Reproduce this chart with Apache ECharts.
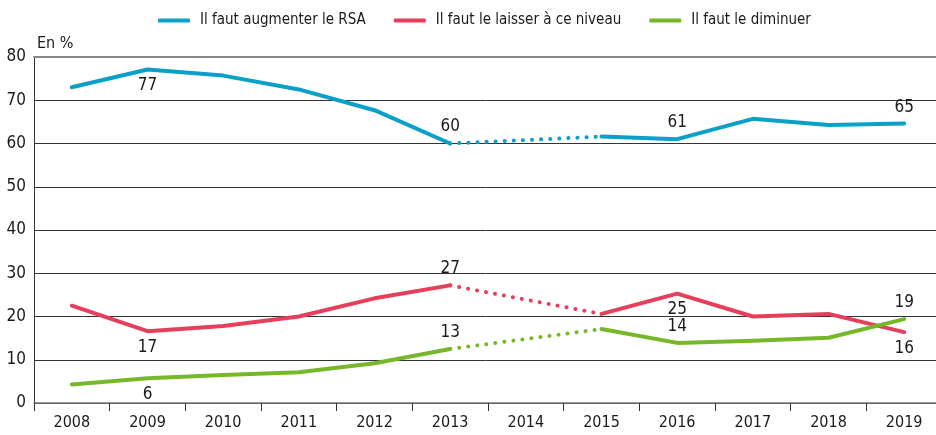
<!DOCTYPE html>
<html>
<head>
<meta charset="utf-8">
<script src="https://cdn.jsdelivr.net/npm/echarts@6/dist/echarts.min.js"></script>
<style>
  html, body { margin: 0; padding: 0; background: #fff; }
  #chart { width: 936px; height: 435px; }
</style>
</head>
<body>
<div id="chart"></div>
<script>
var years = ['2008', '2009', '2010', '2011', '2012', '2013', '2014', '2015', '2016', '2017', '2018', '2019'];
var augmenter = [73.0, 77.1, 75.7, 72.5, 67.7, 60.0, null, 61.6, 61.0, 65.7, 64.3, 64.6];
var laisser = [22.5, 16.6, 17.8, 20.0, 24.2, 27.2, null, 20.6, 25.3, 20.0, 20.6, 16.4];
var diminuer = [4.3, 5.7, 6.5, 7.1, 9.2, 12.5, null, 17.1, 13.9, 14.4, 15.1, 19.4];
var names = ['Il faut augmenter le RSA', 'Il faut le laisser à ce niveau', 'Il faut le diminuer'];
var colors = ['#0aa0c8', '#e63f5b', '#76b82a'];
// which points carry a value label, and where
var labelAt = [
    {1: 'bottom', 5: 'top', 8: 'top', 11: 'top'},
    {1: 'bottom', 5: 'top', 8: 'bottom', 11: 'bottom'},
    {1: 'bottom', 5: 'top', 8: 'top', 11: 'top'}
];

var font = "'Liberation Sans Narrow', 'DejaVu Sans Condensed', sans-serif";
var dom = document.getElementById('chart');
var myChart = echarts.init(dom);

function solidData(values, marks) {
    return values.map(function (v, i) {
        if (v === null) return null;
        var item = {value: v};
        if (marks[i]) {
            item.label = {show: true, position: marks[i]};
        }
        return item;
    });
}

// dotted link over the missing 2014 point
function gapData(values) {
    return values.map(function (v, i) {
        return (i === 5 || i === 7) ? v : null;
    });
}

var series = [];
[augmenter, laisser, diminuer].forEach(function (vals, k) {
    series.push({
        name: names[k],
        type: 'line',
        data: solidData(vals, labelAt[k]),
        symbol: 'circle',
        symbolSize: 0,
        connectNulls: false,
        lineStyle: {color: colors[k], width: 4, cap: 'round', join: 'round'},
        itemStyle: {color: colors[k]},
        label: {
            show: false,
            color: '#1a1a1a',
            fontFamily: font,
            fontSize: 17,
            distance: 8,
            formatter: function (p) { return Math.round(p.value); }
        },
        z: 3
    });
    series.push({
        name: names[k] + ' (gap)',
        type: 'line',
        data: gapData(vals),
        symbol: 'none',
        connectNulls: true,
        lineStyle: {color: colors[k], width: 4, type: [0.1, 9], cap: 'round'},
        z: 3
    });
});

option = {
    animation: false,
    textStyle: {fontFamily: font},
    legend: {
        data: names,
        left: 153,
        top: 8,
        itemWidth: 32,
        itemHeight: 4,
        itemGap: 28,
        icon: 'roundRect',
        textStyle: {fontFamily: font, fontSize: 15, color: '#1a1a1a', padding: [0, 0, 0, 5]}
    },
    grid: {left: 34, right: -6, top: 57, bottom: 32, outerBoundsMode: 'none', containLabel: false},
    xAxis: [{
        type: 'category',
        data: years,
        boundaryGap: true,
        axisLine: {lineStyle: {color: '#777', width: 1.5}},
        axisTick: {show: true, length: 8, lineStyle: {color: '#333'}},
        axisLabel: {color: '#1a1a1a', fontSize: 16, fontFamily: font, margin: 12}
    }, {
        type: 'category',
        data: years,
        position: 'top',
        axisLine: {lineStyle: {color: '#888', width: 2}},
        axisTick: {show: false},
        axisLabel: {show: false}
    }],
    yAxis: {
        type: 'value',
        min: 0,
        max: 80,
        interval: 10,
        name: 'En %',
        nameLocation: 'end',
        nameGap: 5,
        nameTextStyle: {align: 'left', color: '#1a1a1a', fontSize: 16, fontFamily: font, padding: [0, 0, 0, 3]},
        axisLine: {show: true, lineStyle: {color: '#333', width: 1}},
        axisTick: {show: false},
        axisLabel: {color: '#1a1a1a', fontSize: 17, fontFamily: font, margin: 8},
        splitLine: {lineStyle: {color: '#333', width: 1}}
    },
    series: series
};

if (option && typeof option === 'object') {
    myChart.setOption(option, true);
}
</script>
</body>
</html>
